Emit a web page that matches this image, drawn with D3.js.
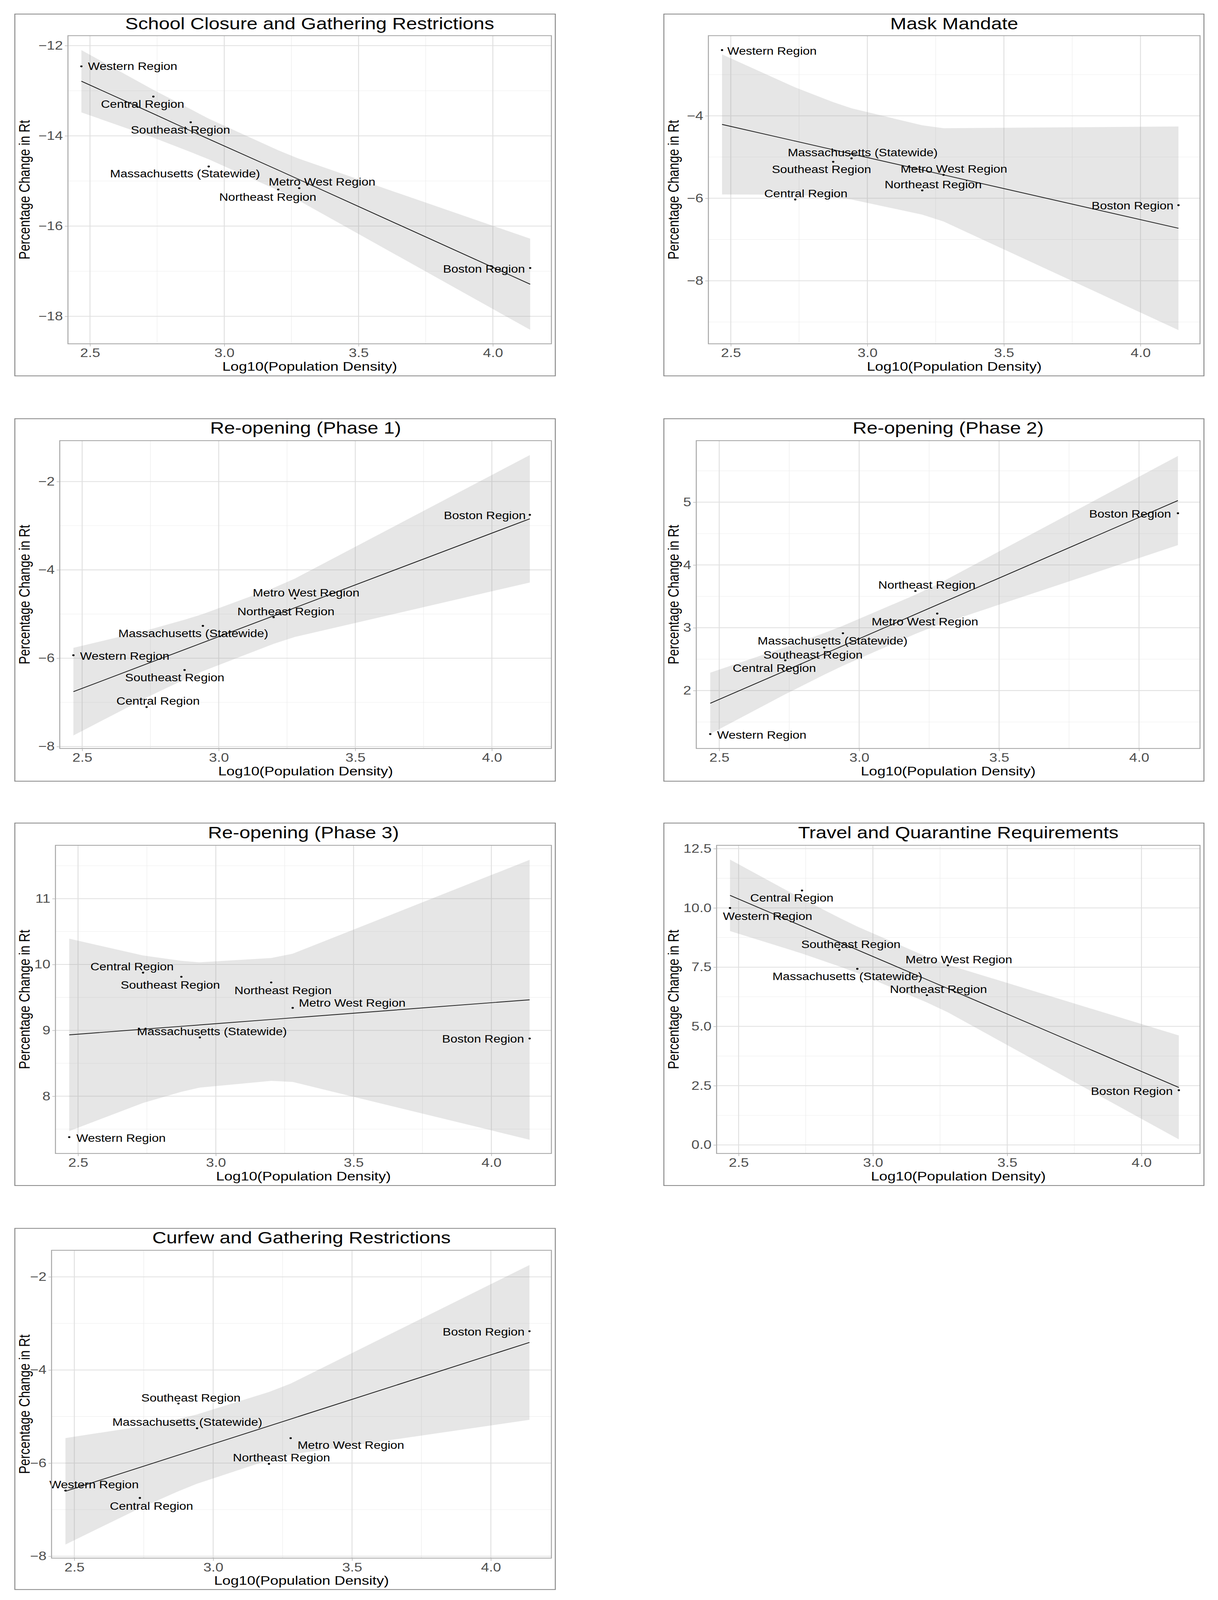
<!DOCTYPE html>
<meta charset="utf-8">
<style>
  html, body { margin: 0; padding: 0; background: #fff; overflow: hidden; }
  svg { display: block; }
  text { font-family: "Liberation Sans", Arial, sans-serif; }
</style>
<script src="https://d3js.org/d3.v7.min.js"></script>
<div id="my_dataviz"></div>
<script>

// regions, same order in every panel
var regions = ["Western Region", "Central Region", "Southeast Region", "Massachusetts (Statewide)",
               "Northeast Region", "Metro West Region", "Boston Region"];
var logDensity = [2.468, 2.736, 2.875, 2.942, 3.201, 3.279, 4.139];

var xTicks = [2.5, 3.0, 3.5, 4.0];
var xMinor = [2.75, 3.25, 3.75];

// School Closure and Gathering Restrictions
var schoolRt  = [-12.46, -13.13, -13.70, -14.68, -15.19, -15.16, -16.93];
var schoolFit = [-12.79, -13.51, -13.89, -14.07, -14.76, -14.97, -17.29];
var schoolLo  = [-13.48, -14.04, -14.36, -14.52, -15.21, -15.44, -18.30];
var schoolHi  = [-12.10, -12.98, -13.41, -13.62, -14.32, -14.51, -16.28];
var schoolLabX = [2.659, 2.696, 2.837, 2.854, 3.162, 3.364, 3.967];
var schoolLabY = [-12.46, -13.30, -13.87, -14.84, -15.36, -15.02, -16.95];

// Mask Mandate
var maskRt  = [-2.406, -6.03, -5.116, -5.033, -5.809, -5.433, -6.167];
var maskFit = [-4.209, -4.613, -4.823, -4.924, -5.314, -5.432, -6.728];
var maskLo  = [-5.907, -5.914, -5.977, -6.029, -6.398, -6.563, -9.197];
var maskHi  = [-2.511, -3.312, -3.669, -3.819, -4.230, -4.301, -4.259];
var maskLabX = [2.651, 2.775, 2.832, 2.983, 3.241, 3.317, 3.971];
var maskLabY = [-2.424, -5.887, -5.301, -4.890, -5.666, -5.290, -6.179];

// Re-opening (Phase 1)
var phase1Rt  = [-5.933, -7.106, -6.268, -5.268, -5.073, -4.648, -2.754];
var phase1Fit = [-6.758, -6.130, -5.804, -5.647, -5.041, -4.858, -2.843];
var phase1Lo  = [-7.750, -6.890, -6.479, -6.293, -5.674, -5.519, -4.286];
var phase1Hi  = [-5.766, -5.370, -5.129, -5.001, -4.408, -4.197, -1.400];
var phase1LabX = [2.656, 2.778, 2.839, 2.907, 3.246, 3.320, 3.974];
var phase1LabY = [-5.950, -6.966, -6.436, -5.441, -4.944, -4.514, -2.765];

// Re-opening (Phase 2)
var phase2Rt  = [1.307, 2.482, 2.685, 2.913, 3.586, 3.226, 4.824];
var phase2Fit = [1.798, 2.316, 2.584, 2.714, 3.214, 3.365, 5.026];
var phase2Lo  = [1.310, 1.942, 2.252, 2.396, 2.902, 3.040, 4.316];
var phase2Hi  = [2.286, 2.690, 2.916, 3.032, 3.526, 3.690, 5.736];
var phase2LabX = [2.652, 2.697, 2.835, 2.905, 3.242, 3.235, 3.968];
var phase2LabY = [1.295, 2.360, 2.568, 2.795, 3.680, 3.100, 4.812];

// Re-opening (Phase 3)
var phase3Rt  = [7.378, 9.876, 9.813, 8.891, 9.727, 9.341, 8.876];
var phase3Fit = [8.931, 9.017, 9.061, 9.082, 9.165, 9.190, 9.464];
var phase3Lo  = [7.470, 7.897, 8.067, 8.131, 8.232, 8.216, 7.339];
var phase3Hi  = [10.392, 10.137, 10.055, 10.033, 10.098, 10.164, 11.589];
var phase3LabX = [2.656, 2.696, 2.835, 2.986, 3.244, 3.495, 3.970];
var phase3LabY = [7.367, 9.970, 9.689, 8.985, 9.607, 9.416, 8.869];

// Travel and Quarantine Requirements
var travelRt  = [9.996, 10.734, 8.229, 7.429, 6.318, 7.575, 2.307];
var travelFit = [10.530, 9.230, 8.556, 8.231, 6.975, 6.597, 2.426];
var travelLo  = [9.023, 8.075, 7.531, 7.250, 6.013, 5.593, 0.234];
var travelHi  = [12.037, 10.385, 9.581, 9.212, 7.937, 7.601, 4.618];
var travelLabX = [2.608, 2.698, 2.918, 2.905, 3.244, 3.320, 3.964];
var travelLabY = [9.653, 10.422, 8.468, 7.118, 6.567, 7.824, 2.276];

// Curfew and Gathering Restrictions
var curfewRt  = [-6.589, -6.748, -4.721, -5.252, -6.016, -5.464, -3.167];
var curfewFit = [-6.605, -6.092, -5.826, -5.698, -5.203, -5.054, -3.408];
var curfewLo  = [-7.748, -6.968, -6.603, -6.442, -5.933, -5.816, -5.070];
var curfewHi  = [-5.462, -5.216, -5.049, -4.954, -4.473, -4.292, -1.746];
var curfewLabX = [2.571, 2.778, 2.920, 2.907, 3.246, 3.496, 3.974];
var curfewLabY = [-6.456, -6.918, -4.599, -5.119, -5.883, -5.613, -3.178];

var panels = [
  { title: "School Closure and Gathering Restrictions", rt: schoolRt, fit: schoolFit, lo: schoolLo, hi: schoolHi,
    labX: schoolLabX, labY: schoolLabY, yDomain: [-18.61, -11.78], yTicks: [-18, -16, -14, -12], yMinor: [-17, -15, -13], fmt: "d" },
  { title: "Mask Mandate", rt: maskRt, fit: maskFit, lo: maskLo, hi: maskHi,
    labX: maskLabX, labY: maskLabY, yDomain: [-9.53, -2.056], yTicks: [-8, -6, -4], yMinor: [-9, -7, -5, -3], fmt: "d" },
  { title: "Re-opening (Phase 1)", rt: phase1Rt, fit: phase1Fit, lo: phase1Lo, hi: phase1Hi,
    labX: phase1LabX, labY: phase1LabY, yDomain: [-8.044, -1.074], yTicks: [-8, -6, -4, -2], yMinor: [-7, -5, -3], fmt: "d" },
  { title: "Re-opening (Phase 2)", rt: phase2Rt, fit: phase2Fit, lo: phase2Lo, hi: phase2Hi,
    labX: phase2LabX, labY: phase2LabY, yDomain: [1.078, 5.98], yTicks: [2, 3, 4, 5], yMinor: [1.5, 2.5, 3.5, 4.5, 5.5], fmt: "d" },
  { title: "Re-opening (Phase 3)", rt: phase3Rt, fit: phase3Fit, lo: phase3Lo, hi: phase3Hi,
    labX: phase3LabX, labY: phase3LabY, yDomain: [7.13, 11.81], yTicks: [8, 9, 10, 11], yMinor: [7.5, 8.5, 9.5, 10.5, 11.5], fmt: "d" },
  { title: "Travel and Quarantine Requirements", rt: travelRt, fit: travelFit, lo: travelLo, hi: travelHi,
    labX: travelLabX, labY: travelLabY, yDomain: [-0.36, 12.64], yTicks: [0, 2.5, 5, 7.5, 10, 12.5], yMinor: [1.25, 3.75, 6.25, 8.75, 11.25], fmt: ".1f" },
  { title: "Curfew and Gathering Restrictions", rt: curfewRt, fit: curfewFit, lo: curfewLo, hi: curfewHi,
    labX: curfewLabX, labY: curfewLabY, yDomain: [-8.04, -1.43], yTicks: [-8, -6, -4, -2], yMinor: [-7, -5, -3], fmt: "d" }
];

// layout: outer boxes and plotting panels (pixels of the 3119 x 4891 figure)
var W = 3119, H = 4891;
var cols = [{ ox0: 38, ox1: 1422, px1: 1412 }, { ox0: 1700, ox1: 3083, px1: 3073 }];
var rows = [{ oy0: 43, oy1: 1149, py0: 109, py1: 1051 },
            { oy0: 1280, oy1: 2388, py0: 1347, py1: 2288 },
            { oy0: 2516, oy1: 3624, py0: 2584, py1: 3526 },
            { oy0: 3755, oy1: 4859, py0: 3822, py1: 4763 }];
var plotLeft = [174, 1814, 153, 1783, 142, 1835, 132];
var xDomain = [2.418, 4.218];

// the window may be shorter than the figure: fit the whole figure into it
var viewH = Math.min(H, window.innerHeight || H);

var svg = d3.select("#my_dataviz")
  .append("svg")
  .attr("width", W)
  .attr("height", viewH)
  .attr("viewBox", "0 0 " + W + " " + H)
  .attr("preserveAspectRatio", "none")
  .style("background", "#fff");

panels.forEach(function (p, i) {
  var c = cols[i % 2], r = rows[Math.floor(i / 2)];
  var px0 = plotLeft[i], px1 = c.px1, py0 = r.py0, py1 = r.py1;
  var g = svg.append("g");

  // outer frame
  g.append("rect")
    .attr("x", c.ox0).attr("y", r.oy0)
    .attr("width", c.ox1 - c.ox0).attr("height", r.oy1 - r.oy0)
    .attr("fill", "none").attr("stroke", "#8a8a8a").attr("stroke-width", 2.5);

  var x = d3.scaleLinear().domain(xDomain).range([px0, px1]);
  var y = d3.scaleLinear().domain(p.yDomain).range([py1, py0]);

  // grid
  var grid = g.append("g");
  grid.selectAll(".vminor").data(xMinor).enter().append("line")
    .attr("x1", d => x(d)).attr("x2", d => x(d)).attr("y1", py0).attr("y2", py1)
    .attr("stroke", "#ededed").attr("stroke-width", 1.3);
  grid.selectAll(".hminor").data(p.yMinor.filter(v => v > p.yDomain[0] && v < p.yDomain[1])).enter().append("line")
    .attr("x1", px0).attr("x2", px1).attr("y1", d => y(d)).attr("y2", d => y(d))
    .attr("stroke", "#ededed").attr("stroke-width", 1.3);
  grid.selectAll(".vmajor").data(xTicks).enter().append("line")
    .attr("x1", d => x(d)).attr("x2", d => x(d)).attr("y1", py0).attr("y2", py1)
    .attr("stroke", "#e0e0e0").attr("stroke-width", 2.4);
  grid.selectAll(".hmajor").data(p.yTicks).enter().append("line")
    .attr("x1", px0).attr("x2", px1).attr("y1", d => y(d)).attr("y2", d => y(d))
    .attr("stroke", "#e0e0e0").attr("stroke-width", 2.4);

  var rowsData = logDensity.map(function (lx, k) {
    return { x: lx, rt: p.rt[k], fit: p.fit[k], lo: p.lo[k], hi: p.hi[k],
             lx: p.labX[k], ly: p.labY[k], name: regions[k] };
  });

  // confidence band
  g.append("path")
    .datum(rowsData)
    .attr("fill", "#9a9a9a").attr("fill-opacity", 0.25)
    .attr("d", d3.area().x(d => x(d.x)).y0(d => y(d.lo)).y1(d => y(d.hi)));

  // fitted line
  g.append("path")
    .datum(rowsData)
    .attr("fill", "none").attr("stroke", "#1a1a1a").attr("stroke-width", 2.3)
    .attr("d", d3.line().x(d => x(d.x)).y(d => y(d.fit)));

  // points
  g.selectAll("circle").data(rowsData).enter().append("circle")
    .attr("cx", d => x(d.x)).attr("cy", d => y(d.rt)).attr("r", 2.9)
    .attr("fill", "#000");

  // labels
  g.selectAll(".lab").data(rowsData).enter().append("text")
    .attr("x", d => x(d.lx)).attr("y", d => y(d.ly)).attr("dy", "0.36em")
    .attr("text-anchor", "middle").attr("font-size", 32).attr("fill", "#000")
    .text(d => d.name);

  // panel border
  g.append("rect")
    .attr("x", px0).attr("y", py0).attr("width", px1 - px0).attr("height", py1 - py0)
    .attr("fill", "none").attr("stroke", "#a6a6a6").attr("stroke-width", 2.5);

  // axes
  var yAxis = g.append("g")
    .attr("transform", "translate(" + px0 + ",0)")
    .call(d3.axisLeft(y).tickValues(p.yTicks).tickFormat(d3.format(p.fmt)).tickSize(8).tickPadding(5));
  var xAxis = g.append("g")
    .attr("transform", "translate(0," + py1 + ")")
    .call(d3.axisBottom(x).tickValues(xTicks).tickFormat(d3.format(".1f")).tickSize(8).tickPadding(6));
  [yAxis, xAxis].forEach(function (a) {
    a.select(".domain").remove();
    a.selectAll(".tick line").attr("stroke", "#b3b3b3").attr("stroke-width", 1.6);
    a.selectAll(".tick text").attr("font-size", 37).attr("fill", "#4d4d4d")
      .style("font-family", "'Liberation Sans', Arial, sans-serif");
  });

  var cx = (px0 + px1) / 2;
  g.append("text")
    .attr("x", cx).attr("y", r.oy0 + 46)
    .attr("text-anchor", "middle").attr("font-size", 50).attr("fill", "#000")
    .text(p.title);
  g.append("text")
    .attr("x", cx).attr("y", py1 + 82)
    .attr("text-anchor", "middle").attr("font-size", 38).attr("fill", "#000")
    .text("Log10(Population Density)");
  g.append("text")
    .attr("transform", "translate(" + (c.ox0 + 38) + "," + ((py0 + py1) / 2) + ") rotate(-90)")
    .attr("text-anchor", "middle").attr("font-size", 38).attr("fill", "#000")
    .text("Percentage Change in Rt");
});

</script>
